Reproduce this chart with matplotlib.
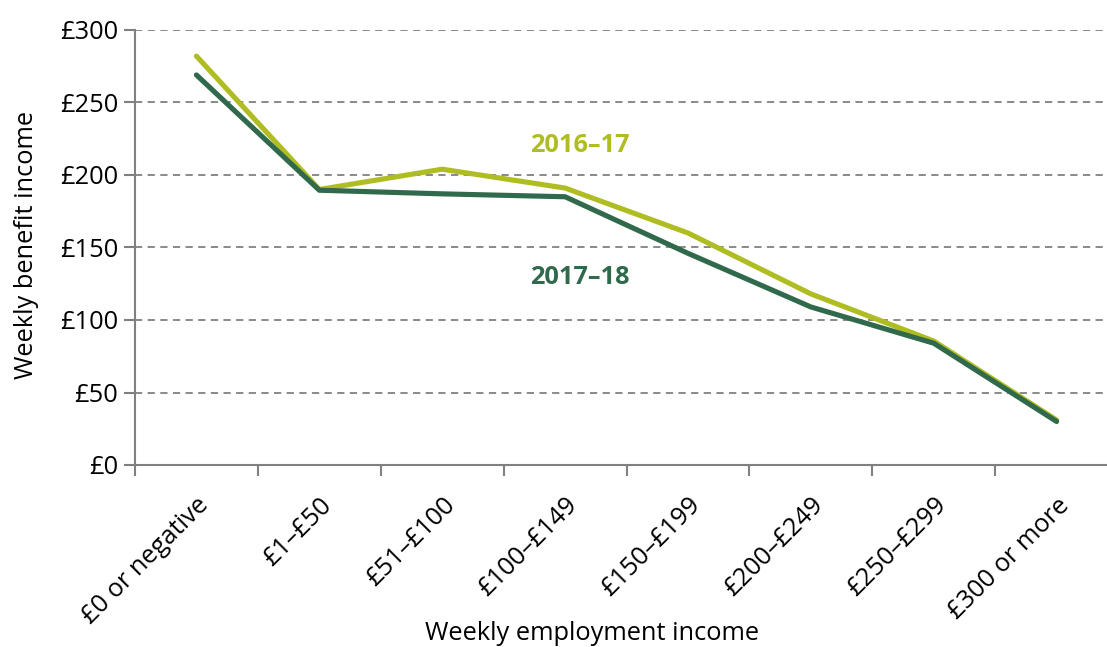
import matplotlib.pyplot as plt
import numpy as np

plt.rcParams['font.family'] = ['Open Sans', 'DejaVu Sans']

categories = ['£0 or negative', '£1–£50', '£51–£100', '£100–£149',
              '£150–£199', '£200–£249', '£250–£299', '£300 or more']
y2016 = [282, 190, 204, 191, 160, 118, 85.5, 31]
y2017 = [269, 189.5, 187, 185, 146, 109, 84, 30]
yticks = [0, 50, 100, 150, 200, 250, 300]

light = '#AFBD22'
dark = '#30694B'
grey = '#808080'
fs = 18.3

fig = plt.figure(figsize=(11.07, 6.47), dpi=100)
ax = fig.add_axes([135 / 1107, 1 - 465 / 647, 1 - 135 / 1107, 435 / 647])

x = np.arange(len(categories))
ax.plot(x, y2016, color=light, lw=3.7, solid_capstyle='round', solid_joinstyle='round', zorder=3)
ax.plot(x, y2017, color=dark, lw=3.7, solid_capstyle='round', solid_joinstyle='round', zorder=4)

ax.set_xlim(-0.5, 7.41)
ax.set_ylim(0, 300)
ax.set_yticks(yticks)
ax.set_yticklabels([f'£{v}' for v in yticks], fontsize=fs)
for v in yticks[1:]:
    ax.axhline(v, color=grey, lw=1.3, ls=(0, (4, 3)), zorder=1)

ax.set_xticks(np.arange(-0.5, 7.0, 1.0))
ax.set_xticklabels([])
ax.set_xticks(x, minor=True)
ax.set_xticklabels(categories, minor=True, rotation=45, ha='right', va='top',
                   rotation_mode='anchor', fontsize=fs)
ax.tick_params(axis='x', which='major', length=8, width=1.5, color=grey)
ax.tick_params(axis='x', which='minor', length=0, pad=20)
ax.tick_params(axis='y', length=8, width=1.5, color=grey, pad=4)

for s in ['top', 'right']:
    ax.spines[s].set_visible(False)
for s in ['left', 'bottom']:
    ax.spines[s].set_color(grey)
    ax.spines[s].set_linewidth(1.5)

ax.text(3.12, 220, '2016–17', color=light, fontsize=fs, fontweight='bold', ha='center', va='center')
ax.text(3.12, 129, '2017–18', color=dark, fontsize=fs, fontweight='bold', ha='center', va='center')

fig.text(592 / 1107, 1 - 633 / 647, 'Weekly employment income', fontsize=fs, ha='center', va='center')
fig.text(27 / 1107, 1 - 245 / 647, 'Weekly benefit income', fontsize=fs, ha='center', va='center',
         rotation=90)

fig.savefig('out.png', dpi=100)
